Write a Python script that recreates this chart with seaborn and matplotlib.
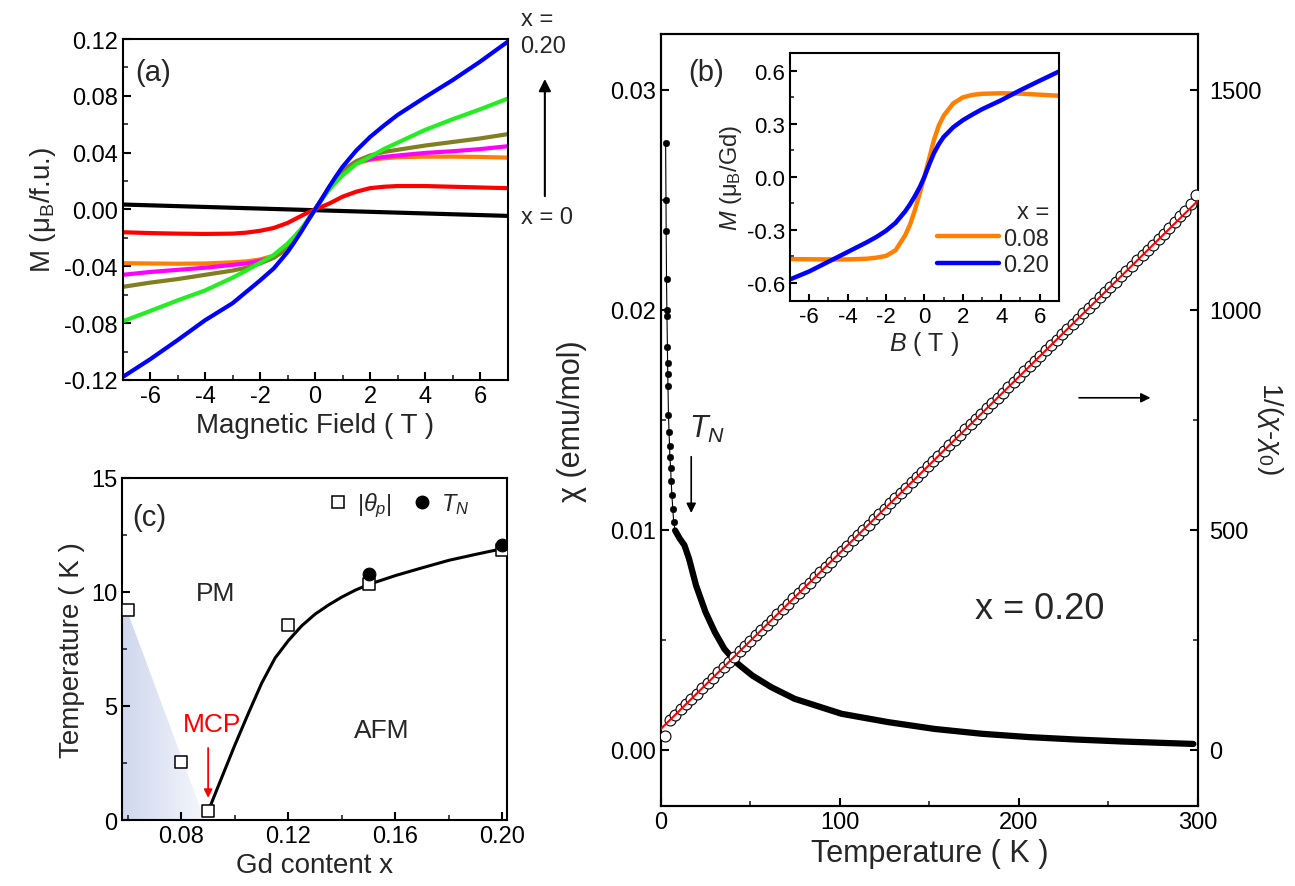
import numpy as np
import matplotlib
matplotlib.use('Agg')
import matplotlib.pyplot as plt
import seaborn as sns
from matplotlib.ticker import MultipleLocator, FormatStrFormatter
from matplotlib.colors import LinearSegmentedColormap
from matplotlib.patches import Polygon
from matplotlib.lines import Line2D

sns.set_theme(style='ticks')
plt.rcParams['font.family'] = ['Liberation Sans', 'DejaVu Sans']
plt.rcParams['mathtext.fontset'] = 'custom'
plt.rcParams['mathtext.rm'] = 'Liberation Sans'
plt.rcParams['mathtext.it'] = 'Liberation Sans:italic'
plt.rcParams['mathtext.bf'] = 'Liberation Sans:bold'
plt.rcParams['axes.unicode_minus'] = False
plt.rcParams['xtick.direction'] = 'in'
plt.rcParams['ytick.direction'] = 'in'
plt.rcParams['axes.linewidth'] = 1.5
plt.rcParams['axes.edgecolor'] = 'black'

# ---------------- (a) M vs field, several x ----------------
field = [-7, -6, -5, -4, -3, -2.5, -2, -1.5, -1, -0.75, -0.5, -0.25, 0,
         0.25, 0.5, 0.75, 1, 1.5, 2, 2.5, 3, 4, 5, 6, 7]
m_red = [-0.016, -0.0166, -0.017, -0.0172, -0.017, -0.0163, -0.015, -0.013, -0.0095, -0.007, -0.0045, -0.002, 0,
         0.002, 0.004, 0.0065, 0.009, 0.0125, 0.015, 0.016, 0.0165, 0.0165, 0.016, 0.0155, 0.015]
m_orange = [-0.0378, -0.038, -0.0382, -0.038, -0.0372, -0.0365, -0.0352, -0.0325, -0.0275, -0.022, -0.015, -0.0075, 0,
            0.0075, 0.015, 0.022, 0.0275, 0.0325, 0.035, 0.036, 0.0368, 0.0372, 0.0372, 0.037, 0.0365]
m_magenta = [-0.046, -0.044, -0.0425, -0.041, -0.039, -0.038, -0.036, -0.0335, -0.0275, -0.022, -0.015, -0.0075, 0,
             0.0075, 0.015, 0.022, 0.0275, 0.0335, 0.0355, 0.037, 0.038, 0.0398, 0.041, 0.0425, 0.0445]
m_olive = [-0.0545, -0.0515, -0.049, -0.046, -0.043, -0.041, -0.038, -0.034, -0.0275, -0.022, -0.015, -0.0075, 0,
           0.0075, 0.015, 0.022, 0.0275, 0.034, 0.038, 0.0405, 0.042, 0.045, 0.0475, 0.050, 0.053]
m_green = [-0.0788, -0.0715, -0.064, -0.057, -0.048, -0.043, -0.0375, -0.032, -0.024, -0.019, -0.0135, -0.007, 0,
           0.007, 0.0135, 0.019, 0.024, 0.032, 0.037, 0.0425, 0.047, 0.056, 0.0635, 0.0705, 0.078]
m_blue = [-0.118, -0.1055, -0.092, -0.078, -0.066, -0.058, -0.050, -0.0415, -0.030, -0.023, -0.0155, -0.0075, 0,
          0.0075, 0.0155, 0.023, 0.030, 0.0415, 0.051, 0.059, 0.0665, 0.079, 0.091, 0.104, 0.118]
field_x0 = [-7, 7]
m_x0 = [0.0035, -0.0045]

# ---------------- (b) inset: M per Gd ----------------
m_gd_008 = [-0.465, -0.466, -0.467, -0.467, -0.463, -0.457, -0.447, -0.415, -0.33, -0.27, -0.19, -0.095, 0.0,
            0.105, 0.21, 0.29, 0.345, 0.415, 0.449, 0.463, 0.469, 0.472, 0.47, 0.464, 0.458]
m_gd_020 = [-0.58, -0.535, -0.48, -0.425, -0.37, -0.34, -0.305, -0.26, -0.195, -0.155, -0.11, -0.06, 0.0,
            0.07, 0.135, 0.185, 0.225, 0.28, 0.32, 0.352, 0.382, 0.433, 0.49, 0.543, 0.595]

# ---------------- (b) chi(T) and inverse ----------------
chi_T = [2.6, 2.8, 2.9, 3.1, 3.3, 3.35, 3.6, 3.7, 3.8, 3.9, 4.2, 4.5, 4.8, 5.0, 5.4, 5.7, 6.1, 6.6, 7.1,
         7.9, 10.5, 13.1, 15.7, 19.6, 24.9, 30.1, 35.4, 41.9, 51.0, 61.6, 74.7, 100.9, 127.0, 153.0,
         179.5, 205.7, 231.9, 258.0, 297.4]
chi = [0.0276, 0.0250, 0.0236, 0.0214, 0.0200, 0.0197, 0.0183, 0.0176, 0.0171, 0.01655, 0.0152, 0.01445,
       0.0138, 0.0133, 0.0128, 0.0122, 0.0116, 0.01095, 0.01036,
       0.00997, 0.0096, 0.0093, 0.00868, 0.00747, 0.00626, 0.00535, 0.00459, 0.00398, 0.00338, 0.00285,
       0.00232, 0.00164, 0.00126, 0.00095, 0.00073, 0.00058, 0.00047, 0.00038, 0.00027]
n_low = 19  # points below the dense part of the curve

inv_T = [2, 5, 8, 11, 14, 17, 20, 23, 26, 29, 32, 35, 38, 41, 44, 47, 50, 53, 56, 59,
         62, 65, 68, 71, 74, 77, 80, 83, 86, 89, 92, 95, 98, 101, 104, 107, 110, 113, 116, 119,
         122, 125, 128, 131, 134, 137, 140, 143, 146, 149, 152, 155, 158, 161, 164, 167, 170, 173, 176, 179,
         182, 185, 188, 191, 194, 197, 200, 203, 206, 209, 212, 215, 218, 221, 224, 227, 230, 233, 236, 239,
         242, 245, 248, 251, 254, 257, 260, 263, 266, 269, 272, 275, 278, 281, 284, 287, 290, 293, 296, 299]
inv_chi = [32, 68, 80, 92, 104, 116, 128, 140, 152, 164, 176, 188, 200, 212, 224, 236, 248, 260, 272, 284,
           296, 308, 320, 332, 344, 356, 368, 380, 392, 404, 416, 428, 440, 452, 464, 476, 488, 500, 512, 524,
           536, 548, 560, 572, 584, 596, 608, 620, 632, 644, 656, 668, 680, 692, 704, 716, 728, 740, 752, 764,
           776, 788, 800, 812, 824, 836, 848, 860, 872, 884, 896, 908, 920, 932, 944, 956, 968, 980, 992, 1004,
           1016, 1028, 1040, 1052, 1064, 1076, 1088, 1100, 1112, 1124, 1136, 1148, 1160, 1173, 1186, 1199,
           1212, 1225, 1240, 1260]
fit_T = [0, 300]
fit_inv = [48, 1248]

# ---------------- (c) phase diagram ----------------
theta_x = [0.06, 0.08, 0.09, 0.12, 0.15, 0.20]
theta_T = [9.2, 2.55, 0.38, 8.54, 10.37, 11.84]
tn_x = [0.15, 0.20]
tn_T = [10.81, 12.05]
line_x = [0.09, 0.095, 0.10, 0.105, 0.11, 0.115, 0.12, 0.125, 0.13, 0.135, 0.14, 0.145, 0.15,
          0.16, 0.17, 0.18, 0.19, 0.20]
line_T = [0.38, 1.84, 3.29, 4.67, 6.0, 7.1, 7.87, 8.52, 9.03, 9.43, 9.78, 10.08, 10.33,
          10.72, 11.06, 11.39, 11.65, 11.9]

fig = plt.figure(figsize=(12.95, 8.87), dpi=100)
ax_a = fig.add_axes([0.0946, 0.5705, 0.2973, 0.3844])
ax_c = fig.add_axes([0.0942, 0.0744, 0.2973, 0.3856])
ax_b = fig.add_axes([0.5104, 0.0902, 0.4147, 0.8703])
ax_r = ax_b.twinx()

TICK = 17
LAB = 20

def style(ax, size=TICK):
    ax.tick_params(which='major', length=6, width=1.5, labelsize=size, colors='black')
    ax.tick_params(which='minor', length=3.5, width=1.2)
    for s in ax.spines.values():
        s.set_linewidth(1.5)
        s.set_color('black')

# ---- panel (a)
curves = [(field_x0, m_x0, 'black'), (field, m_red, '#ff0000'), (field, m_orange, '#ff8000'),
          (field, m_magenta, '#ff00ff'), (field, m_olive, '#808022'), (field, m_green, '#22ee22'),
          (field, m_blue, '#0000ff')]
for xs, ys, col in curves:
    sns.lineplot(x=xs, y=ys, ax=ax_a, color=col, lw=3.0, legend=False)
ax_a.set_xlim(-7, 7)
ax_a.set_ylim(-0.12, 0.12)
ax_a.set_xticks([-6, -4, -2, 0, 2, 4, 6])
ax_a.set_yticks([-0.12, -0.08, -0.04, 0.0, 0.04, 0.08, 0.12])
ax_a.yaxis.set_major_formatter(FormatStrFormatter('%.2f'))
ax_a.xaxis.set_minor_locator(MultipleLocator(1))
ax_a.yaxis.set_minor_locator(MultipleLocator(0.02))
style(ax_a)
ax_a.set_xlabel('Magnetic Field ( T )', fontsize=LAB)
ax_a.set_ylabel(r'M (μ$_{\rm B}$/f.u.)', fontsize=LAB)
ax_a.text(0.079, 0.903, '(a)', transform=ax_a.transAxes, fontsize=21, ha='center', va='center')
ax_a.text(1.077, 1.059, 'x =', transform=ax_a.transAxes, fontsize=17, ha='center', va='center')
ax_a.text(1.092, 0.979, '0.20', transform=ax_a.transAxes, fontsize=17, ha='center', va='center')
ax_a.text(1.103, 0.478, 'x = 0', transform=ax_a.transAxes, fontsize=17, ha='center', va='center')
ax_a.annotate('', xy=(1.097, 0.891), xytext=(1.097, 0.531), xycoords='axes fraction',
              textcoords='axes fraction', annotation_clip=False,
              arrowprops=dict(arrowstyle='-|>', color='black', lw=1.5, mutation_scale=18))

# ---- panel (c)
x0c, x1c = 0.0578, 0.2017
shade = Polygon([(x0c, 8.93), (0.0605, 8.93), (0.0888, 0), (x0c, 0)], closed=True,
                facecolor='none', edgecolor='none')
ax_c.add_patch(shade)
cmap = LinearSegmentedColormap.from_list('shade', ['#cfd7ee', '#f5f7fc'])
im = ax_c.imshow(np.linspace(0, 1, 256)[None, :], extent=[x0c, 0.0888, 0, 8.93], aspect='auto',
                 cmap=cmap, zorder=0.5, interpolation='bilinear')
im.set_clip_path(shade)
sns.lineplot(x=line_x, y=line_T, ax=ax_c, color='black', lw=2.2, legend=False, zorder=2)
sns.scatterplot(x=theta_x, y=theta_T, ax=ax_c, marker='s', s=75, facecolor='white',
                edgecolor='black', linewidth=1.1, zorder=3, legend=False)
sns.scatterplot(x=tn_x, y=tn_T, ax=ax_c, marker='o', s=85, color='black', edgecolor='black',
                zorder=4, legend=False)
ax_c.set_xlim(x0c, x1c)
ax_c.set_ylim(0, 15)
ax_c.set_xticks([0.08, 0.12, 0.16, 0.20])
ax_c.xaxis.set_major_formatter(FormatStrFormatter('%.2f'))
ax_c.set_yticks([0, 5, 10, 15])
ax_c.xaxis.set_minor_locator(MultipleLocator(0.02))
ax_c.yaxis.set_minor_locator(MultipleLocator(2.5))
style(ax_c)
ax_c.set_xlabel('Gd content x', fontsize=LAB)
ax_c.set_ylabel('Temperature ( K )', fontsize=LAB)
ax_c.text(0.068, 13.3, '(c)', fontsize=21, ha='center', va='center')
ax_c.text(0.0927, 9.96, 'PM', fontsize=19, ha='center', va='center')
ax_c.text(0.155, 3.94, 'AFM', fontsize=19, ha='center', va='center')
ax_c.text(0.0913, 4.23, 'MCP', fontsize=19, ha='center', va='center', color='#ff0000')
ax_c.annotate('', xy=(0.09, 0.85), xytext=(0.09, 3.28),
              arrowprops=dict(arrowstyle='-|>', color='#ff0000', lw=1.3, mutation_scale=12))
handles = [Line2D([], [], ls='none', marker='s', ms=8, mfc='white', mec='black', mew=1.1),
           Line2D([], [], ls='none', marker='o', ms=9, mfc='black', mec='black')]
ax_c.legend(handles, [r'$|\theta_p|$', r'$T_N$'], ncol=2, frameon=False, fontsize=17,
            loc='center left', bbox_to_anchor=(0.53, 0.921), handlelength=1.0,
            handletextpad=0.3, columnspacing=0.8, borderpad=0, borderaxespad=0)

# ---- panel (b)
sns.lineplot(x=chi_T, y=chi, ax=ax_b, color='black', lw=0.8, legend=False)
sns.scatterplot(x=chi_T[:n_low], y=chi[:n_low], ax=ax_b, color='black', s=22, edgecolor='black',
                legend=False)
sns.lineplot(x=chi_T[n_low:], y=chi[n_low:], ax=ax_b, color='black', lw=4.5, legend=False)
ax_b.set_xlim(0, 300)
ax_b.set_ylim(-0.00255, 0.03253)
ax_b.set_xticks([0, 100, 200, 300])
ax_b.set_yticks([0.0, 0.01, 0.02, 0.03])
ax_b.yaxis.set_major_formatter(FormatStrFormatter('%.2f'))
ax_b.xaxis.set_minor_locator(MultipleLocator(50))
ax_b.yaxis.set_minor_locator(MultipleLocator(0.005))
style(ax_b)
ax_b.set_xlabel('Temperature ( K )', fontsize=22)
ax_b.set_ylabel('χ (emu/mol)', fontsize=22, va='center')
ax_b.yaxis.set_label_coords(-0.165, 0.5)

sns.scatterplot(x=inv_T, y=inv_chi, ax=ax_r, marker='o', s=62, facecolor='white',
                edgecolor='black', linewidth=0.8, legend=False, zorder=3)
sns.lineplot(x=fit_T, y=fit_inv, ax=ax_r, color='#ff0000', lw=1.5, legend=False, zorder=4)
ax_r.set_ylim(-127.5, 1626.5)
ax_r.set_yticks([0, 500, 1000, 1500])
ax_r.yaxis.set_minor_locator(MultipleLocator(250))
style(ax_r)
ax_r.tick_params(axis='y', pad=8)
ax_r.set_ylabel(r'1/($\chi$-$\chi_0$)', fontsize=20, rotation=-90, va='center', ha='center')
ax_r.yaxis.set_label_coords(1.134, 0.49)

ax_b.text(25.2, 0.0308, '(b)', fontsize=21, ha='center', va='center')
ax_b.text(15.8, 0.01459, r'$T_N$', fontsize=22, ha='left', va='center')
ax_b.annotate('', xy=(16.9, 0.01064), xytext=(16.9, 0.01345),
              arrowprops=dict(arrowstyle='-|>', color='black', lw=1.2, mutation_scale=14))
ax_b.annotate('', xy=(275, 0.016), xytext=(232, 0.016),
              arrowprops=dict(arrowstyle='-|>', color='black', lw=1.2, mutation_scale=14))
ax_b.text(211.3, 0.00641, 'x = 0.20', fontsize=26, ha='center', va='center')

# ---- inset of (b)
ins = fig.add_axes([0.6100, 0.6599, 0.2077, 0.2793])
sns.lineplot(x=field, y=m_gd_008, ax=ins, color='#ff8000', lw=3.2, label='0.08')
sns.lineplot(x=field, y=m_gd_020, ax=ins, color='#0000ff', lw=3.2, label='0.20')
ins.set_xlim(-7, 7)
ins.set_ylim(-0.7, 0.7)
ins.set_xticks([-6, -4, -2, 0, 2, 4, 6])
ins.set_yticks([-0.6, -0.3, 0.0, 0.3, 0.6])
ins.yaxis.set_major_formatter(FormatStrFormatter('%.1f'))
ins.xaxis.set_minor_locator(MultipleLocator(1))
ins.yaxis.set_minor_locator(MultipleLocator(0.15))
style(ins, size=16)
ins.tick_params(which='major', length=5)
ins.tick_params(which='minor', length=3)
ins.set_xlabel(r'$B$ ( T )', fontsize=18, labelpad=2)
ins.set_ylabel(r'$M$ (μ$_{\rm B}$/Gd)', fontsize=17, labelpad=2)
ins.legend(title='x =', frameon=False, fontsize=17, title_fontsize=17, handlelength=2.6,
           handletextpad=0.2, labelspacing=0.2, loc='lower right', bbox_to_anchor=(1.0, 0.06),
           borderaxespad=0, alignment='right')

fig.savefig('out.png', dpi=100)
